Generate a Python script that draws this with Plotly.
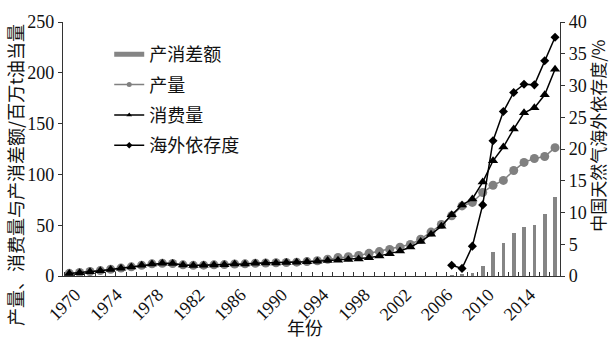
import plotly.graph_objects as go

# China natural gas: production, consumption, gap (Mtoe) and import dependency (%)
years = list(range(1970, 2018))

production = [
    2.6, 3.4, 4.4, 5.3, 6.6, 7.8, 9.0, 10.6, 12.0, 12.6,
    12.3, 11.0, 10.5, 10.7, 11.0, 11.2, 11.8, 12.0, 12.6, 12.8,
    13.0, 13.3, 13.6, 14.2, 15.0, 16.5, 18.2, 19.0, 20.2, 22.3,
    24.0, 26.2, 28.3, 31.0, 36.2, 43.2, 50.7, 59.3, 69.0, 72.4,
    82.2, 89.3, 94.1, 103.8, 111.8, 115.6, 117.6, 126.3,
]

consumption = [
    2.5, 3.3, 4.3, 5.2, 6.5, 7.7, 8.9, 10.5, 11.9, 12.5,
    12.2, 10.9, 10.4, 10.6, 10.9, 11.1, 11.7, 11.9, 12.5, 12.7,
    12.9, 13.2, 13.5, 14.0, 14.6, 15.2, 15.6, 16.2, 16.8, 18.0,
    19.8, 22.0, 24.5, 28.5, 33.9, 41.0, 49.0, 60.2, 69.9, 75.8,
    92.5, 113.4, 126.9, 144.6, 160.7, 165.5, 178.4, 203.5,
]

gap_years = list(range(2007, 2018))
gap = [0.8, 1.6, 3.4, 10.3, 24.1, 32.9, 42.3, 48.3, 49.8, 60.8, 77.5]

dep_years = list(range(2007, 2018))
dependency = [1.7, 1.2, 4.7, 11.2, 21.3, 25.9, 28.9, 30.2, 30.1, 33.9, 37.6]

x_tick_years = list(range(1970, 2018, 4))

GREY = "#808080"
BAR_GREY = "#858585"
BLACK = "#000000"
NUM_FONT = dict(family="Liberation Serif", size=18, color="#111111")
CJK_FONT = dict(family="Noto Sans CJK SC", size=18, color="#111111")
CJK_FONT_R = dict(family="Noto Sans CJK SC", size=17, color="#111111")

fig = go.Figure()

# gap bars on the left axis
fig.add_trace(go.Bar(
    x=gap_years, y=gap, width=0.35, marker=dict(color=BAR_GREY, line=dict(width=0)),
    showlegend=False, yaxis="y",
))

# production
fig.add_trace(go.Scatter(
    x=years, y=production, mode="lines+markers",
    line=dict(color=GREY, width=1.5),
    marker=dict(symbol="circle", size=9, color=GREY),
    showlegend=False, yaxis="y",
))

# consumption
fig.add_trace(go.Scatter(
    x=years, y=consumption, mode="lines+markers",
    line=dict(color=BLACK, width=1.5),
    marker=dict(symbol="triangle-up", size=9, color=BLACK),
    showlegend=False, yaxis="y",
))

# import dependency on the right axis
fig.add_trace(go.Scatter(
    x=dep_years, y=dependency, mode="lines+markers",
    line=dict(color=BLACK, width=1.5),
    marker=dict(symbol="diamond", size=7, color=BLACK),
    showlegend=False, yaxis="y2",
))

# legend entries (line samples with small markers)
legend_items = [
    ("产消差额", dict(color=BAR_GREY, width=5), None),
    ("产量", dict(color=GREY, width=1.5), dict(symbol="circle", size=5, color=GREY)),
    ("消费量", dict(color=BLACK, width=1.5), dict(symbol="triangle-up", size=5, color=BLACK)),
    ("海外依存度", dict(color=BLACK, width=1.5), dict(symbol="diamond", size=5, color=BLACK)),
]
for i, (name, line, marker) in enumerate(legend_items):
    fig.add_trace(go.Scatter(
        x=[None], y=[None], name=name,
        mode="lines+markers" if marker else "lines",
        line=line, marker=marker, legendgroup=f"g{i}", showlegend=True,
    ))

fig.update_layout(
    width=611, height=344,
    margin=dict(l=63, r=51, t=17, b=68),
    paper_bgcolor="white", plot_bgcolor="white",
    bargap=0,
    showlegend=True,
    legend=dict(
        x=0.093, y=0.945, xanchor="left", yanchor="top",
        font=CJK_FONT, bgcolor="rgba(0,0,0,0)",
        traceorder="grouped", tracegroupgap=4,
    ),
    xaxis=dict(
        range=[1969.39, 2017.48],
        tickvals=x_tick_years, ticktext=[str(y) for y in x_tick_years],
        tickangle=-45, tickfont=NUM_FONT, ticklabelshift=6,
        ticks="", showgrid=False, zeroline=False,
        showline=True, linecolor="#333333", linewidth=1.2,
        minor=dict(tick0=1969.5, dtick=1, ticks="inside", ticklen=4,
                   tickcolor="#333333", showgrid=False),
    ),
    yaxis=dict(
        range=[0, 250], dtick=50, tickfont=NUM_FONT,
        ticks="outside", ticklen=4, tickcolor="#333333",
        showgrid=False, zeroline=False,
        showline=True, linecolor="#333333", linewidth=1.2,
    ),
    yaxis2=dict(
        range=[0, 40], dtick=5, tickfont=NUM_FONT,
        overlaying="y", side="right",
        ticks="outside", ticklen=4, tickcolor="#333333",
        showgrid=False, zeroline=False,
        showline=True, linecolor="#333333", linewidth=1.2,
    ),
    annotations=[
        dict(text="产量、消费量与产消差额/百万t油当量", xref="paper", yref="paper",
             x=-0.0966, y=0.398, xanchor="center", yanchor="middle",
             textangle=-90, showarrow=False, font=CJK_FONT),
        dict(text="中国天然气海外依存度/%", xref="paper", yref="paper",
             x=1.0765, y=0.552, xanchor="center", yanchor="middle",
             textangle=-90, showarrow=False, font=CJK_FONT_R),
        dict(text="年份", xref="paper", yref="paper",
             x=0.487, y=-0.2, xanchor="center", yanchor="middle",
             showarrow=False, font=CJK_FONT),
    ],
)

fig.write_html("out.html")
